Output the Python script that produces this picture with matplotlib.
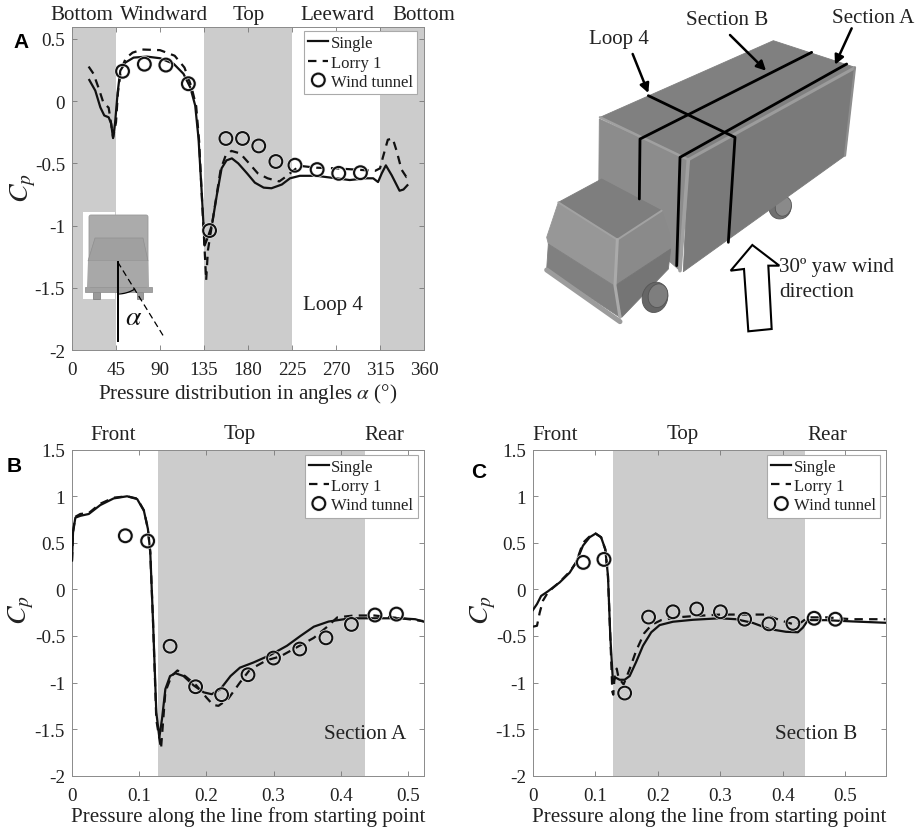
import numpy as np
import matplotlib
matplotlib.use("Agg")
import matplotlib.pyplot as plt
import matplotlib.patheffects as pe
from matplotlib.patches import Polygon, Ellipse, Rectangle, FancyBboxPatch

plt.rcParams['font.family'] = ['Liberation Serif', 'DejaVu Serif']
plt.rcParams['mathtext.fontset'] = 'stix'

# ---------- Panel A: Loop 4
a_single_x = [17.7,23.8,29,33,37.5,40,42,44,46.7,49.4,54.5,63,76.6,90,104,114,121,126,129.4,133,135.6,138.6,143,148,153,158,163.5,170,179,187,196,204,214.6,223,233,250,267,284,301,308,313,316.8,321,327,335,339,343]
a_single_y = [.17,.085,-.05,-.115,-.13,-.18,-.297,-.18,.07,.245,.31,.35,.358,.345,.30,.22,.11,-.035,-.30,-.78,-1.16,-1.10,-1.0,-.76,-.54,-.476,-.46,-.50,-.58,-.655,-.695,-.70,-.67,-.62,-.60,-.60,-.617,-.634,-.62,-.62,-.65,-.58,-.516,-.596,-.72,-.71,-.676]
a_lorry_x = [17,22,27,32,37.5,40,42,45,47,50,55,62,72,90,105,115,122,127,130,133,136,137.2,139,143,148,152,157,163,172,180,190,200,212,220,226,233,250,270,290,310,315,318,323,328,332,337,342,345]
a_lorry_y = [.278,.22,.11,-.01,-.053,-.18,-.29,-.17,.07,.25,.345,.39,.415,.41,.365,.27,.12,-.04,-.32,-.8,-1.25,-1.44,-1.2,-1.0,-.75,-.55,-.44,-.40,-.42,-.49,-.58,-.62,-.645,-.6,-.56,-.52,-.535,-.54,-.55,-.56,-.54,-.45,-.31,-.30,-.40,-.55,-.61,-.60]
a_tunnel_x = [51.7,74,96,119,140.7,157.4,174.4,191,208.5,228,250.7,272.8,295]
a_tunnel_y = [.24,.297,.29,.14,-1.04,-.30,-.30,-.36,-.485,-.515,-.55,-.58,-.575]
a_xticks = [0,45,90,135,180,225,270,315,360]
a_yticks = [-2,-1.5,-1,-0.5,0,0.5]
a_yticklabels = ['-2','-1.5','-1','-0.5','0','0.5']
a_bands = [(0,44.5),(135,225),(315,360)]

# ---------- Panel B: Section A
b_single_x = [0,.0015,.005,.0124,.025,.042,.062,.082,.097,.107,.113,.1165,.1205,.1255,.13,.134,.139,.146,.154,.166,.181,.196,.208,.221,.236,.25,.27,.295,.32,.34,.36,.382,.414,.449,.489,.511,.523]
b_single_y = [.31,.61,.77,.79,.81,.905,.977,1.0,.97,.845,.65,.40,-.32,-1.32,-1.59,-1.39,-1.07,-.93,-.90,-.93,-1.03,-1.105,-1.125,-1.07,-.93,-.84,-.785,-.705,-.605,-.50,-.40,-.345,-.31,-.31,-.31,-.32,-.345]
b_lorry_x = [0,.0015,.005,.0124,.025,.042,.062,.082,.097,.107,.113,.1165,.1205,.1255,.1325,.139,.148,.157,.17,.185,.2,.21,.218,.232,.25,.265,.29,.31,.33,.36,.38,.395,.42,.45,.49,.523]
b_lorry_y = [.31,.62,.78,.81,.82,.92,.985,1.0,.975,.85,.65,.40,-.32,-1.4,-1.71,-1.1,-.93,-.87,-.94,-1.03,-1.16,-1.24,-1.25,-1.18,-1.0,-.86,-.76,-.72,-.64,-.52,-.40,-.30,-.28,-.28,-.31,-.34]
b_tunnel_x = [.0794,.1126,.146,.184,.2227,.262,.30,.339,.378,.416,.451,.483]
b_tunnel_y = [.576,.52,-.61,-1.045,-1.13,-.916,-.737,-.64,-.52,-.376,-.275,-.265]

# ---------- Panel C: Section B
c_single_x = [0,.0064,.013,.024,.0427,.0587,.069,.08,.0907,.1003,.109,.1157,.12,.1237,.128,.1317,.1387,.1467,.1547,.165,.176,.1893,.2027,.224,.256,.2987,.325,.352,.3787,.405,.424,.432,.44,.469,.512,.564]
c_single_y = [-.22,-.157,-.07,-.02,.075,.18,.29,.47,.56,.6,.56,.43,.147,-.5,-1.0,-.945,-.97,-.97,-.93,-.78,-.605,-.46,-.383,-.347,-.326,-.31,-.32,-.36,-.426,-.455,-.46,-.41,-.33,-.33,-.344,-.358]
c_lorry_x = [0,.0064,.0107,.016,.024,.0427,.0587,.069,.08,.09,.1,.109,.1157,.12,.1237,.127,.1285,.131,.134,.137,.145,.155,.165,.178,.19,.205,.23,.26,.3,.33,.37,.4,.42,.43,.44,.47,.51,.564]
c_lorry_y = [-.40,-.39,-.25,-.12,-.03,.08,.19,.29,.5,.565,.6,.56,.43,.14,-.5,-1.1,-1.13,-.9,-.85,-.95,-1.02,-.85,-.66,-.47,-.38,-.33,-.30,-.285,-.27,-.27,-.27,-.34,-.38,-.35,-.30,-.30,-.32,-.32]
c_tunnel_x = [.0805,.1136,.1467,.185,.224,.262,.30,.3387,.3776,.416,.45,.484]
c_tunnel_y = [.29,.322,-1.113,-.297,-.24,-.21,-.24,-.32,-.37,-.365,-.31,-.32]

bc_xticks = [0,.1,.2,.3,.4,.5]
bc_xticklabels = ['0','0.1','0.2','0.3','0.4','0.5']
bc_yticks = [-2,-1.5,-1,-0.5,0,0.5,1,1.5]
bc_yticklabels = ['-2','-1.5','-1','-0.5','0','0.5','1','1.5']
b_band = (.128,.436)
c_band = (.1285,.4357)

series_names = ['Single','Lorry 1','Wind tunnel']

W, H = 920, 829
fig = plt.figure(figsize=(W/100, H/100), dpi=100)
GRAY = '#cccccc'
TICK_FS = 13.8
FS = 15.1
DASH = (3.8, 2.8)

def mkax(l, t, r, b):
    return fig.add_axes([l/W, 1-b/H, (r-l)/W, (b-t)/H])

def panel(ax, xlim, ylim, bands, xticks, xlabels, yticks, ylabels, sx, sy, lx, ly, tx, ty, xlabel, note, note_xy, legend_anchor):
    for lo, hi in bands:
        ax.axvspan(lo, hi, color=GRAY, lw=0, zorder=0)
    ax.plot(sx, sy, color='#111111', lw=1.6, label=series_names[0], zorder=3)
    ax.plot(lx, ly, color='#111111', lw=1.6, dashes=DASH, label=series_names[1], zorder=3)
    ax.plot(tx, ty, ls='none', marker='o', ms=9.2, mfc='none', mec='#111111', mew=1.5, label=series_names[2], zorder=4,
            path_effects=[pe.withStroke(linewidth=2.4, foreground='#e4e4e4')])
    ax.set_xlim(*xlim); ax.set_ylim(*ylim)
    ax.set_xticks(xticks); ax.set_xticklabels(xlabels)
    ax.set_yticks(yticks); ax.set_yticklabels(ylabels)
    ax.tick_params(direction='in', top=True, right=True, length=3.5, width=0.6, color='#777777',
                   labelsize=TICK_FS, labelcolor='#222222')
    ax.tick_params(axis='x', pad=8)
    ax.tick_params(axis='y', pad=5)
    for s in ax.spines.values():
        s.set_color('#8a8a8a'); s.set_linewidth(0.7)
    ax.set_xlabel(xlabel, fontsize=FS, color='#222222', labelpad=2)
    ax.text(*note_xy, note, fontsize=FS, color='#222222', ha='center', va='center', transform=fig.transFigure)
    ax.legend(loc='upper right', bbox_to_anchor=legend_anchor, bbox_transform=fig.transFigure,
              fontsize=12, frameon=True, fancybox=False, framealpha=1, edgecolor='#aaaaaa',
              handlelength=1.2, handletextpad=0.15, labelspacing=0.2, borderpad=0.25, borderaxespad=0,
              labelcolor='#222222').get_frame().set_linewidth(0.8)

axA = mkax(72, 27.5, 424, 351)
panel(axA, (0,360), (-2,0.6), a_bands, a_xticks, [str(v) for v in a_xticks], a_yticks, a_yticklabels,
      a_single_x, a_single_y, a_lorry_x, a_lorry_y, a_tunnel_x, a_tunnel_y,
      r'Pressure distribution in angles $\alpha$ (°)', 'Loop 4', (333/W, 1-306/H), (417/W, 1-32/H))
axB = mkax(72, 450.7, 424, 776.7)
panel(axB, (0,.524), (-2,1.5), [b_band], bc_xticks, bc_xticklabels, bc_yticks, bc_yticklabels,
      b_single_x, b_single_y, b_lorry_x, b_lorry_y, b_tunnel_x, b_tunnel_y,
      'Pressure along the line from starting point', 'Section A', (365/W, 1-735/H), (417.5/W, 1-455.5/H))
axC = mkax(533, 450.7, 886, 776.7)
panel(axC, (0,.565), (-2,1.5), [c_band], bc_xticks, bc_xticklabels, bc_yticks, bc_yticklabels,
      c_single_x, c_single_y, c_lorry_x, c_lorry_y, c_tunnel_x, c_tunnel_y,
      'Pressure along the line from starting point', 'Section B', (816/W, 1-735/H), (880/W, 1-455.5/H))

# ---------- overlay in pixel coordinates (annotations and the truck drawings)
ov = fig.add_axes([0,0,1,1], zorder=10)
ov.set_xlim(0,W); ov.set_ylim(H,0); ov.axis('off'); ov.patch.set_alpha(0)

def T(x, y, s, **k):
    k.setdefault('fontsize', FS); k.setdefault('color','#222222')
    k.setdefault('ha','center'); k.setdefault('va','center')
    ov.text(x, y, s, **k)

for x, s in [(82,'Bottom'),(164,'Windward'),(249,'Top'),(337,'Leeward'),(424,'Bottom')]:
    T(x, 15, s)
for x, s in [(113,'Front'),(240,'Top'),(384,'Rear'),(555,'Front'),(683,'Top'),(827,'Rear')]:
    T(x, 435, s)
for x, y in [(23,188),(21,610),(483,610)]:
    T(x, y, r'$C_p$', rotation=90, fontsize=20)
for x, y, s in [(21,42,'A'),(14,467,'B'),(479,472,'C')]:
    T(x, y, s, family='Liberation Sans', weight='bold', fontsize=15, color='black')

# inset in panel A
ov.add_patch(Rectangle((83.5,212.5),32,87.5,fc='white',ec='none',zorder=1))
ov.add_patch(Rectangle((93,293),7,7,fc='#9a9a9a',ec='#777777',lw=.5,zorder=2))
ov.add_patch(Rectangle((137,293),6,7,fc='#9a9a9a',ec='#777777',lw=.5,zorder=2))
ov.add_patch(FancyBboxPatch((89,216),59,72,boxstyle='round,pad=0,rounding_size=2',fc='#ababab',ec='#9a9a9a',lw=.6,zorder=2))
ov.add_patch(Polygon([(95,239),(143,239),(148,262),(88,262)],fc='#a0a0a0',ec='#8f8f8f',lw=.5,zorder=3))
ov.add_patch(Polygon([(88,262),(148,262),(149,288),(87,288)],fc='#a8a8a8',ec='none',zorder=3))
ov.add_patch(Rectangle((85,288),67,5,fc='#a2a2a2',ec='#8a8a8a',lw=.5,zorder=4))
ov.plot([117.7,117.7],[263,342],color='black',lw=1.4,zorder=5)
ov.plot([117.7,164],[263,338],color='black',lw=.9,ls=(0,(5,3)),zorder=5)
theta = np.radians(np.linspace(58,90,20))
ov.plot(117.7+32*np.cos(theta), 263+32*np.sin(theta), color='black', lw=.9, zorder=5)
T(134,318,r'$\alpha$',fontsize=20,color='#111111')

# truck drawing: coordinates of the 3x crop, origin (520,0)
def Z(pts):
    return [(520+x/3, y/3) for x, y in pts]
# cab crop, origin (540,170)
def Q(pts):
    return [((540+x/3-520)*3, (170+y/3)*3) for x, y in pts]
def P(pts, fc, z=2):
    ov.add_patch(Polygon(Z(pts), closed=True, fc=fc, ec=fc, lw=.6, zorder=z, joinstyle='round'))
def L(pts, c='black', lw=2.0, z=6):
    p = Z(pts)
    ov.plot([a for a,_ in p],[b for _,b in p],color=c,lw=lw,zorder=z,solid_joinstyle='round',solid_capstyle='round')
def E(x, y, w, h, fc, ec='#555555', z=1, ang=15):
    ov.add_patch(Ellipse((520+x/3,y/3),w/3,h/3,angle=ang,fc=fc,ec=ec,lw=.6,zorder=z))

# rear wheel
E(780,625,66,70,'#707070')
E(790,622,48,60,'#8a8a8a')
# box
P([(240,355),(760,125),(1005,205),(505,480)],'#808080')
P([(238,360),(505,480),(480,815),(236,600)],'#8c8c8c')
P([(505,480),(1005,205),(975,470),(490,818)],'#7a7a7a')
L([(240,355),(505,482)],'#a0a0a0',1.8,3)
L([(505,482),(1003,207)],'#9c9c9c',2.2,3)
L([(505,482),(480,815)],'#a0a0a0',2.6,3)
L([(1005,205),(975,470)],'#8e8e8e',1.6,3)
# cab
P(Q([(55,100),(185,30),(365,125),(232,212)]),'#7e7e7e',z=4)
P(Q([(55,100),(232,212),(222,350),(25,225),(20,205)]),'#979797',z=4)
P(Q([(25,225),(222,350),(240,445),(20,300)]),'#808080',z=4)
P(Q([(232,212),(365,125),(390,200),(392,240),(225,350)]),'#8a8a8a',z=4)
P(Q([(225,350),(392,240),(385,300),(245,445)]),'#757575',z=4)
L(Q([(55,100),(232,212),(365,125)]),'#a2a2a2',1.4,5)
L(Q([(232,212),(225,350),(240,445)]),'#aaaaaa',2.2,5)
L(Q([(20,303),(240,458)]),'#9c9c9c',3.6,5)
# front wheel
E(405,895,76,92,'#666666',z=5)
E(414,890,58,72,'#7e7e7e',z=5)

L([(980,195),(480,475),(470,800)])
L([(875,160),(360,420),(358,600)])
L([(385,290),(645,415),(625,730)])

def arrow(a, b):
    ov.annotate('', xy=Z([b])[0], xytext=Z([a])[0], zorder=7,
                arrowprops=dict(arrowstyle='-|>,head_length=0.55,head_width=0.28', color='black', lw=1.8, shrinkA=0, shrinkB=0))
arrow((630,108),(738,215))
arrow((995,88),(945,197))
arrow((338,165),(385,282))
ov.add_patch(Polygon(Z([(685,997),(755,990),(745,800),(778,800),(697,738),(632,815),(672,810)]),fc='white',ec='black',lw=1.5,zorder=6))

T(727,20,'Section B')
T(873,18,'Section A')
T(619,39,'Loop 4')
T(779,267,'30º yaw wind',ha='left')
T(779,292,'direction',ha='left')

fig.savefig('out.png', dpi=100)
